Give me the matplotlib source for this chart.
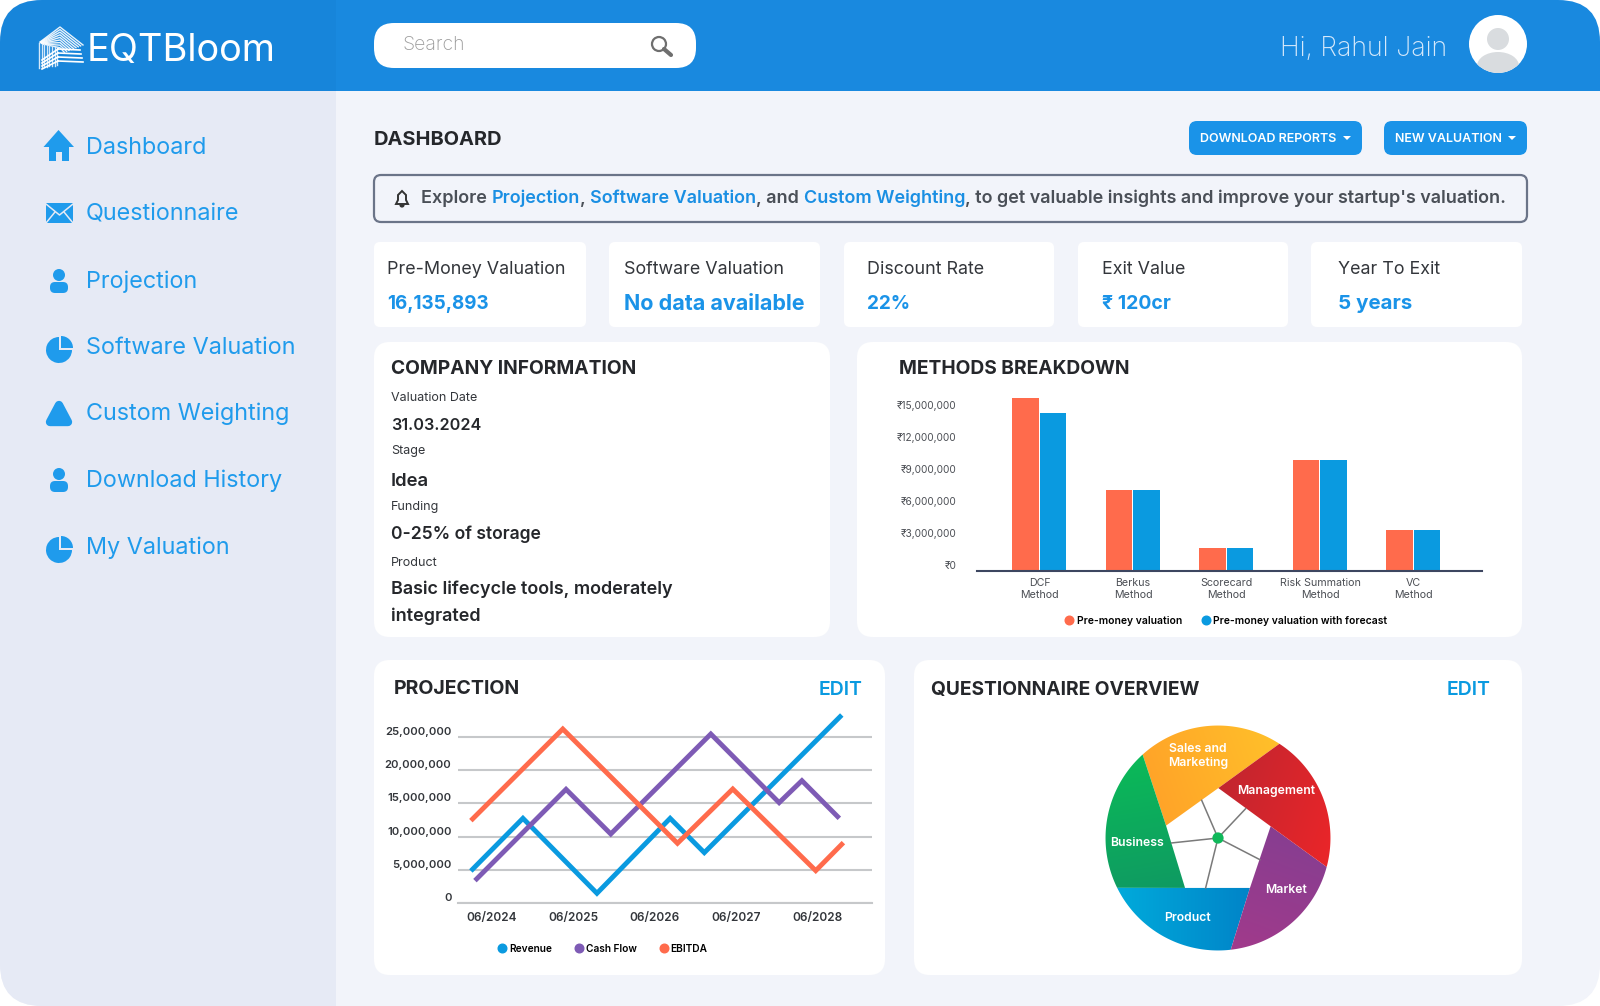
import numpy as np
import matplotlib
matplotlib.use("Agg")
import matplotlib.pyplot as plt
from matplotlib.patches import FancyBboxPatch, Circle, Polygon, Rectangle, Wedge, Ellipse
from matplotlib.colors import LinearSegmentedColormap
from matplotlib.lines import Line2D

plt.rcParams['font.family'] = ['Inter', 'DejaVu Sans']

W, H = 1600, 1006

# bar chart data
methods = ["DCF\nMethod", "Berkus\nMethod", "Scorecard\nMethod", "Risk Summation\nMethod", "VC\nMethod"]
pre_money = [16135893, 7600000, 2150000, 10400000, 3830000]
pre_money_forecast = [14800000, 7600000, 2150000, 10400000, 3830000]
bar_ticks = [0, 3000000, 6000000, 9000000, 12000000, 15000000]

# line chart data, x is years after 06/2024
year_labels = ["06/2024", "06/2025", "06/2026", "06/2027", "06/2028"]
line_ticks = [0, 5000000, 10000000, 15000000, 20000000, 25000000]
revenue_x = [-0.26, 0.38, 1.29, 2.19, 2.61, 4.30]
revenue_y = [4850000, 12750000, 1500000, 12750000, 7600000, 28250000]
cash_x = [-0.21, 0.91, 1.46, 2.69, 3.53, 3.81, 4.27]
cash_y = [3400000, 17100000, 10400000, 25400000, 15100000, 18400000, 12750000]
ebitda_x = [-0.26, 0.87, 2.28, 2.96, 3.98, 4.32]
ebitda_y = [12400000, 26150000, 9000000, 17150000, 4900000, 9100000]

# questionnaire wheel, segment edges in degrees
segments = ["Sales and\nMarketing", "Business", "Product", "Market", "Management"]
edge_angles = [56.9, 132.1, 206.3, 276.5, 345.1, 416.9]

# side menu
menu_items = ["Dashboard", "Questionnaire", "Projection", "Software Valuation",
              "Custom Weighting", "Download History", "My Valuation"]
kpi_labels = ["Pre-Money Valuation", "Software Valuation", "Discount Rate", "Exit Value", "Year To Exit"]
kpi_values = ["16,135,893", "No data available", "22%", "₹ 120cr", "5 years"]

BLUE = "#1f9bec"
CHART_BLUE = "#0a9ae0"
ORANGE = "#ff6b4c"
PURPLE = "#7e5bb5"
DARK = "#25272b"

fig = plt.figure(figsize=(W / 100, H / 100), dpi=100, facecolor="white")
bg = fig.add_axes([0, 0, 1, 1])
bg.set_xlim(0, W)
bg.set_ylim(H, 0)
bg.axis("off")


def px_axes(l, t, r, b):
    ax = fig.add_axes([l / W, 1 - b / H, (r - l) / W, (b - t) / H])
    ax.patch.set_alpha(0)
    return ax


def box(l, t, r, b, color, rad=10, edge="none", lw=0, z=2):
    p = FancyBboxPatch((l, t), r - l, b - t, boxstyle=f"round,pad=0,rounding_size={rad}",
                       fc=color, ec=edge, lw=lw, zorder=z)
    bg.add_patch(p)
    return p


def txt(x, y, s, px, color=DARK, weight="normal", ha="left", va="center", z=5):
    # inter sits a little high against the reference, push it down
    return bg.text(x, y + 2, s, fontsize=px * 0.72, color=color, fontweight=weight, ha=ha, va=va, zorder=z)


# page frame with rounded corners
frame = box(0, 0, W, H, "#f2f4fa", rad=42, z=0)
sidebar = Rectangle((0, 0), 336, H, fc="#e6eaf5", ec="none", zorder=1)
head_l = Rectangle((0, 0), 336, 91, fc="#1785da", ec="none", zorder=1.2)
head_r = Rectangle((336, 0), W - 336, 91, fc="#1989df", ec="none", zorder=1.2)
for p in (sidebar, head_l, head_r):
    bg.add_patch(p)
    p.set_clip_path(frame)

# logo
for i in range(9):
    off = i * 2.6
    bg.plot([40 + off * 0.15, 60, 83 - off * 0.9], [42 + off * 0.1, 27 + off, 45 + off * 0.35 - 0],
            color="white", lw=1.0, zorder=3, alpha=0.9)
for i in range(8):
    xs = 39 + i * 2.6
    bg.plot([xs, xs], [43 + i * 0.5, 68 - i * 0.4], color="#d5e9fa", lw=1.0, zorder=3)
for i in range(4):
    bg.plot([58, 83 - i], [61 - i * 4, 62 - i * 4], color="white", lw=1.2, zorder=3)
    bg.plot([42, 58], [69 - i * 3, 61 - i * 4], color="white", lw=1.2, zorder=3)
txt(87, 49, "EQTBloom", 38, "white", weight="normal")

# search box and user
box(374, 23, 696, 68, "white", rad=20)
txt(403, 43, "Search", 19.5, "#9b9b9b", weight="light")
bg.add_patch(Circle((659, 44), 7, fc="none", ec="#6f6f6f", lw=1.6, zorder=4))
bg.plot([664, 671], [49, 55], color="#6f6f6f", lw=3, zorder=4, solid_capstyle="round")
txt(1447, 47, "Hi, Rahul Jain", 26.8, "#d6e9fb", weight="light", ha="right")
avatar = Circle((1498, 44), 29, fc="white", ec="none", zorder=3)
bg.add_patch(avatar)
bg.add_patch(Circle((1498, 39), 11, fc="#d9dcdf", ec="none", zorder=4))
body = Ellipse((1498, 66), 42, 28, fc="#d9dcdf", ec="none", zorder=4)
bg.add_patch(body)
body.set_clip_path(avatar)

# side menu text and icons
menu_y = [146, 212, 280, 346, 412, 479, 546]
for name, y in zip(menu_items, menu_y):
    txt(86, y, name, 23.4, BLUE)


def person(y):
    bg.add_patch(Circle((59, y - 5), 6, fc=BLUE, ec="none", zorder=4))
    bg.add_patch(FancyBboxPatch((50, y + 2), 18, 11, boxstyle="round,pad=0,rounding_size=5",
                                fc=BLUE, ec="none", zorder=4))


def pie_icon(y):
    bg.add_patch(Wedge((59, y), 13, 0, 270, fc=BLUE, ec="none", zorder=4))
    bg.add_patch(Wedge((61, y - 2), 12, 270, 360, fc=BLUE, ec="none", zorder=4))


bg.add_patch(Polygon([(43.5, 147), (58.5, 130), (74, 147)], fc=BLUE, ec="none", zorder=4))
bg.add_patch(Rectangle((49, 146), 19.5, 15, fc=BLUE, ec="none", zorder=4))
bg.add_patch(Rectangle((55.5, 152), 6, 9, fc="#e6eaf5", ec="none", zorder=5))
bg.add_patch(Rectangle((46, 203), 27, 20, fc=BLUE, ec="none", zorder=4))
bg.plot([46, 59.5, 73], [204, 215, 204], color="#e6eaf5", lw=1.1, zorder=5)
bg.plot([46, 55], [223, 212], color="#e6eaf5", lw=1.1, zorder=5)
bg.plot([73, 64], [223, 212], color="#e6eaf5", lw=1.1, zorder=5)
person(280)
person(479)
pie_icon(350)
pie_icon(550)
bg.add_patch(Polygon([(50, 422), (59, 405), (68, 422)], fc=BLUE, ec=BLUE, lw=6, joinstyle="round", zorder=4))

# title row and buttons
txt(374, 138, "DASHBOARD", 20, DARK, weight="bold")
for l, r, label in [(1189, 1362, "DOWNLOAD REPORTS"), (1384, 1527, "NEW VALUATION")]:
    box(l, 121, r, 155, "#1a93e8", rad=8)
    txt(l + 11, 136.5, label, 12.5, "white", weight="semibold")
    bg.add_patch(Polygon([(r - 19, 136), (r - 11, 136), (r - 15, 140)], fc="white", ec="none", zorder=5))

# alert bar with coloured words
box(374, 175, 1527, 222, "#f2f4fa", rad=7, edge="#6b7488", lw=1.6)
bg.add_patch(Polygon([(396, 204), (398, 200), (398, 195), (402, 191), (406, 195), (406, 200), (408, 204)],
                     fc="none", ec="#333333", lw=1.4, zorder=5))
bg.add_patch(Wedge((402, 205), 2.6, 0, 180, fc="#333333", ec="none", zorder=5))
renderer = fig.canvas.get_renderer()
runs = [("Explore ", "#4a4f57"), ("Projection", "#1a8fe3"), (", ", "#4a4f57"),
        ("Software Valuation", "#1a8fe3"), (", and ", "#4a4f57"), ("Custom Weighting", "#1a8fe3"),
        (", to get valuable insights and improve your startup's valuation.", "#4a4f57")]
cx = 421
for s, c in runs:
    weight = "semibold"
    t = txt(cx, 196, s, 18.0, c, weight=weight)
    probe = txt(0, 0, s + "|", 18.0, c, weight=weight)
    bar = txt(0, 0, "|", 18.0, c, weight=weight)
    cx += probe.get_window_extent(renderer).width - bar.get_window_extent(renderer).width
    probe.remove()
    bar.remove()

# kpi cards
card_x = [(374, 586), (609, 820), (844, 1054), (1078, 1288), (1311, 1522)]
text_x = [387, 624, 867, 1102, 1338]
value_px = [18.8, 21.5, 19, 19.5, 20.5]
for (l, r), x, lab, val, vs in zip(card_x, text_x, kpi_labels, kpi_values, value_px):
    box(l, 242, r, 327, "white", rad=6)
    txt(x, 268, lab, 17.9, "#33363b")
    txt(x, 302, val, vs, "#1a93e8", weight="bold")

# big cards
box(374, 342, 830, 637, "white", rad=16)
box(857, 342, 1522, 637, "white", rad=16)
box(374, 660, 885, 975, "white", rad=16)
box(914, 660, 1522, 975, "white", rad=16)

# company information
txt(391, 367, "COMPANY INFORMATION", 19.2, DARK, weight="bold")
for y, s in [(396, "Valuation Date"), (449, "Stage"), (505, "Funding"), (561, "Product")]:
    txt(391, y, s, 12.5, "#33363b")
for y, s, size in [(424, "31.03.2024", 16.2), (479, "Idea", 18.5), (532, "0-25% of storage", 17.5),
                   (587, "Basic lifecycle tools, moderately", 18), (614, "integrated", 18)]:
    txt(391, y, s, size, DARK, weight="semibold")

# methods breakdown
txt(899, 367, "METHODS BREAKDOWN", 19.2, DARK, weight="bold")
ax = px_axes(977, 395, 1482, 571)
xs = np.arange(len(methods))
ax.bar(xs - 0.147, pre_money, 0.283, color=ORANGE)
ax.bar(xs + 0.147, pre_money_forecast, 0.283, color=CHART_BLUE)
ax.set_xlim(-0.668, 4.733)
ax.set_ylim(0, 16450000)
ax.set_yticks(bar_ticks)
ax.set_yticklabels([f"₹{v:,}" for v in bar_ticks], fontsize=7.3, color="#4c4f55", va="bottom")
ax.set_xticks(xs)
ax.set_xticklabels(methods, fontsize=7.7, color="#4c4f55", linespacing=1.3)
ax.tick_params(axis="both", length=0)
ax.tick_params(axis="y", pad=15)
ax.tick_params(axis="x", pad=5)
for side in ("top", "left", "right"):
    ax.spines[side].set_visible(False)
ax.spines["bottom"].set_color("#3d4660")
ax.spines["bottom"].set_linewidth(1.5)
handles = [Line2D([], [], marker="o", ls="none", color=ORANGE, ms=6.2, label="Pre-money valuation"),
           Line2D([], [], marker="o", ls="none", color=CHART_BLUE, ms=6.2, label="Pre-money valuation with forecast")]
ax.legend(handles=handles, loc="center", bbox_to_anchor=(1223, 621), bbox_transform=bg.transData, ncol=2,
          frameon=False, handletextpad=-0.3, columnspacing=1.3, prop={"size": 7.45, "weight": "semibold"})

# projection
txt(394, 687, "PROJECTION", 19.5, DARK, weight="bold")
txt(862, 688, "EDIT", 19.5, CHART_BLUE, weight="semibold", ha="right")
ax = px_axes(457.7, 700, 871.7, 903.3)
ax.grid(axis="y", color="#c6c8ca", lw=1.5)
ax.set_axisbelow(True)
ax.plot(revenue_x, revenue_y, color=CHART_BLUE, lw=3.5, solid_joinstyle="miter", solid_capstyle="butt", label="Revenue")
ax.plot(cash_x, cash_y, color=PURPLE, lw=3.5, solid_joinstyle="miter", solid_capstyle="butt", label="Cash Flow")
ax.plot(ebitda_x, ebitda_y, color=ORANGE, lw=3.5, solid_joinstyle="miter", solid_capstyle="butt", label="EBITDA")
ax.set_xlim(-0.422, 4.668)
ax.set_ylim(0, 30500000)
ax.set_xticks(range(len(year_labels)))
ax.set_xticklabels(year_labels, fontsize=8.5, color="#33363b", fontweight="semibold")
ax.set_yticks(line_ticks)
ax.set_yticklabels([f"{v:,}" for v in line_ticks], fontsize=8.1, color="#33363b", fontweight="semibold", va="bottom")
ax.tick_params(axis="both", length=0)
ax.tick_params(axis="y", pad=4.5)
ax.tick_params(axis="x", pad=6)
for side in ax.spines:
    ax.spines[side].set_visible(False)
ax.spines["bottom"].set_visible(True)
ax.spines["bottom"].set_color("#c6c8ca")
ax.spines["bottom"].set_linewidth(1.5)
handles = [Line2D([], [], marker="o", ls="none", color=c, ms=6.2, label=n)
           for c, n in [(CHART_BLUE, "Revenue"), (PURPLE, "Cash Flow"), (ORANGE, "EBITDA")]]
ax.legend(handles=handles, loc="center", bbox_to_anchor=(600, 949), bbox_transform=bg.transData, ncol=3,
          frameon=False, handletextpad=-0.35, columnspacing=1.7, prop={"size": 7.3, "weight": "semibold"})

# questionnaire wheel
txt(931, 688, "QUESTIONNAIRE OVERVIEW", 19.2, DARK, weight="bold")
txt(1490, 688, "EDIT", 19.5, CHART_BLUE, weight="semibold", ha="right")
ax = px_axes(1098, 718, 1338, 958)
ax.set_aspect("equal")
ax.axis("off")
inner = {"A": (0.003, 0.444), "B": (0.468, 0.104), "C": (0.284, -0.444), "D": (-0.293, -0.444), "E": (-0.462, 0.110)}
inner_order = [("E", "A"), ("D", "E"), ("C", "D"), ("B", "C"), ("A", "B")]
shades = [("#ffa428", "#ffc02a", 20), ("#0bba58", "#0f9a62", -80), ("#00aadb", "#0084c8", 0),
          ("#a13a8b", "#873e91", 70), ("#c2262f", "#ea2529", -20)]
gx, gy = np.meshgrid(np.linspace(-1.05, 1.05, 220), np.linspace(-1.05, 1.05, 220))
for i, name in enumerate(segments):
    arc = np.radians(np.linspace(edge_angles[i], edge_angles[i + 1], 60))
    pts = list(zip(np.cos(arc), np.sin(arc))) + [inner[k] for k in inner_order[i]]
    poly = Polygon(pts, transform=ax.transData, fc="none", ec="none")
    ax.add_patch(poly)
    c0, c1, ang = shades[i]
    d = gx * np.cos(np.radians(ang)) + gy * np.sin(np.radians(ang))
    inside = np.array(pts)
    proj = inside[:, 0] * np.cos(np.radians(ang)) + inside[:, 1] * np.sin(np.radians(ang))
    im = ax.imshow(d, cmap=LinearSegmentedColormap.from_list("seg", [c0, c1]), vmin=proj.min(), vmax=proj.max(),
                   extent=(-1.05, 1.05, -1.05, 1.05), origin="lower", zorder=2)
    im.set_clip_path(poly)
spoke_ends = [(0.246, 0.261), (0.373, -0.193), (-0.110, -0.444), (-0.412, -0.044), (-0.145, 0.335)]
for ex, ey in spoke_ends:
    ax.plot([0, ex], [0, ey], color="#7a7a7a", lw=1.1, zorder=3)
ax.add_patch(Circle((0, 0), 0.05, fc="#0fb85a", ec="none", zorder=4))
ax.set_xlim(-1.067, 1.067)
ax.set_ylim(-1.067, 1.067)
label_xy = [(1198, 756), (1137, 843), (1187, 918), (1286, 890), (1276, 791)]
for name, (x, y) in zip(segments, label_xy):
    ax.text(x, y, name, transform=bg.transData, fontsize=8.8, color="white", fontweight="semibold",
            ha="center", va="center", linespacing=1.25, zorder=10)

fig.savefig("out.png", dpi=100, facecolor="white")
